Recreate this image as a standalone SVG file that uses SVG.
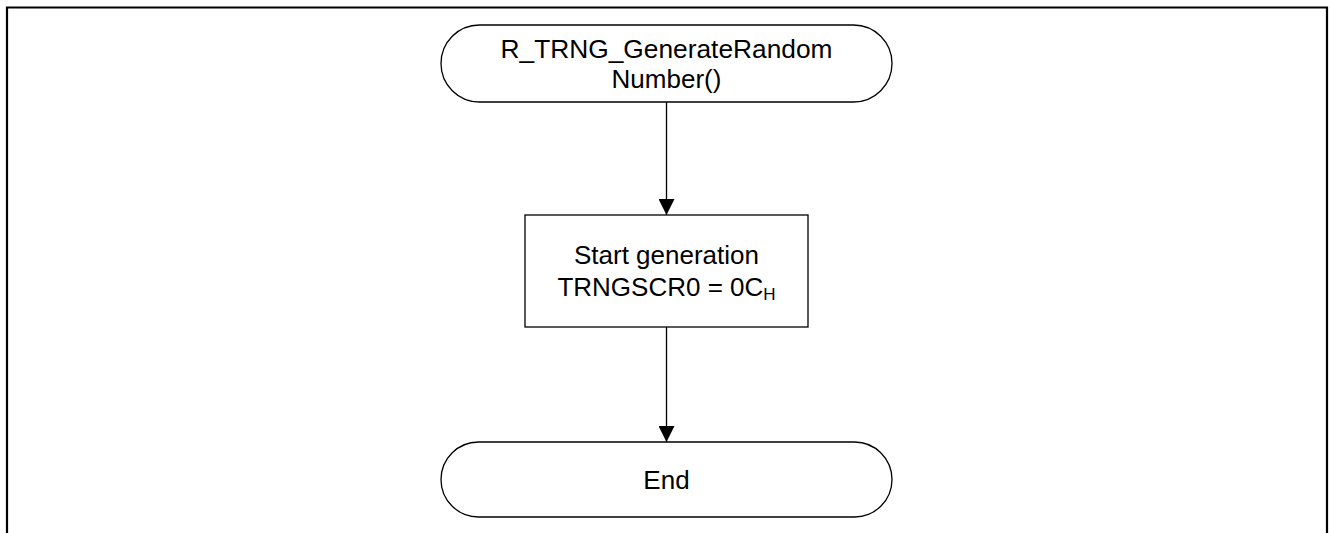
<svg xmlns="http://www.w3.org/2000/svg" width="1330" height="533" viewBox="0 0 1330 533">
<defs>
<style>
.frame{fill:none;stroke:#000;stroke-width:2.2}
.shape{fill:#fff;stroke:#000;stroke-width:1.3}
.line{fill:none;stroke:#000;stroke-width:1.3}
.t{font-family:"Liberation Sans",Arial,sans-serif;font-size:26px;fill:#000;text-anchor:middle}
</style>
<marker id="arr" markerWidth="16" markerHeight="16" refX="16" refY="8" orient="auto" markerUnits="userSpaceOnUse">
<path d="M0,0 L16,8 L0,16 Z" fill="#000"/>
</marker>
</defs>
<rect width="1330" height="533" fill="#fff"/>
<path class="frame" d="M7,540 L7,7.5 L1327,7.5 L1327,540"/>
<g id="connectors">
<line class="line" x1="666.5" y1="102" x2="666.5" y2="215" marker-end="url(#arr)"/>
<line class="line" x1="666.5" y1="327" x2="666.5" y2="442" marker-end="url(#arr)"/>
</g>
<g id="start">
<rect class="shape" x="441" y="25" width="451" height="77" rx="38.5" ry="38.5"/>
<text class="t" x="666.5" y="58" textLength="332" lengthAdjust="spacingAndGlyphs">R_TRNG_GenerateRandom</text>
<text class="t" x="666.5" y="87.5">Number()</text>
</g>
<g id="process">
<rect class="shape" x="525" y="215" width="283" height="112"/>
<text class="t" x="666.5" y="263.5">Start generation</text>
<text class="t" x="666.5" y="296">TRNGSCR0 = 0C<tspan font-size="17px" dy="4">H</tspan></text>
</g>
<g id="end">
<rect class="shape" x="441" y="442" width="451" height="75" rx="37.5" ry="37.5"/>
<text class="t" x="666.5" y="488.5">End</text>
</g>
</svg>
